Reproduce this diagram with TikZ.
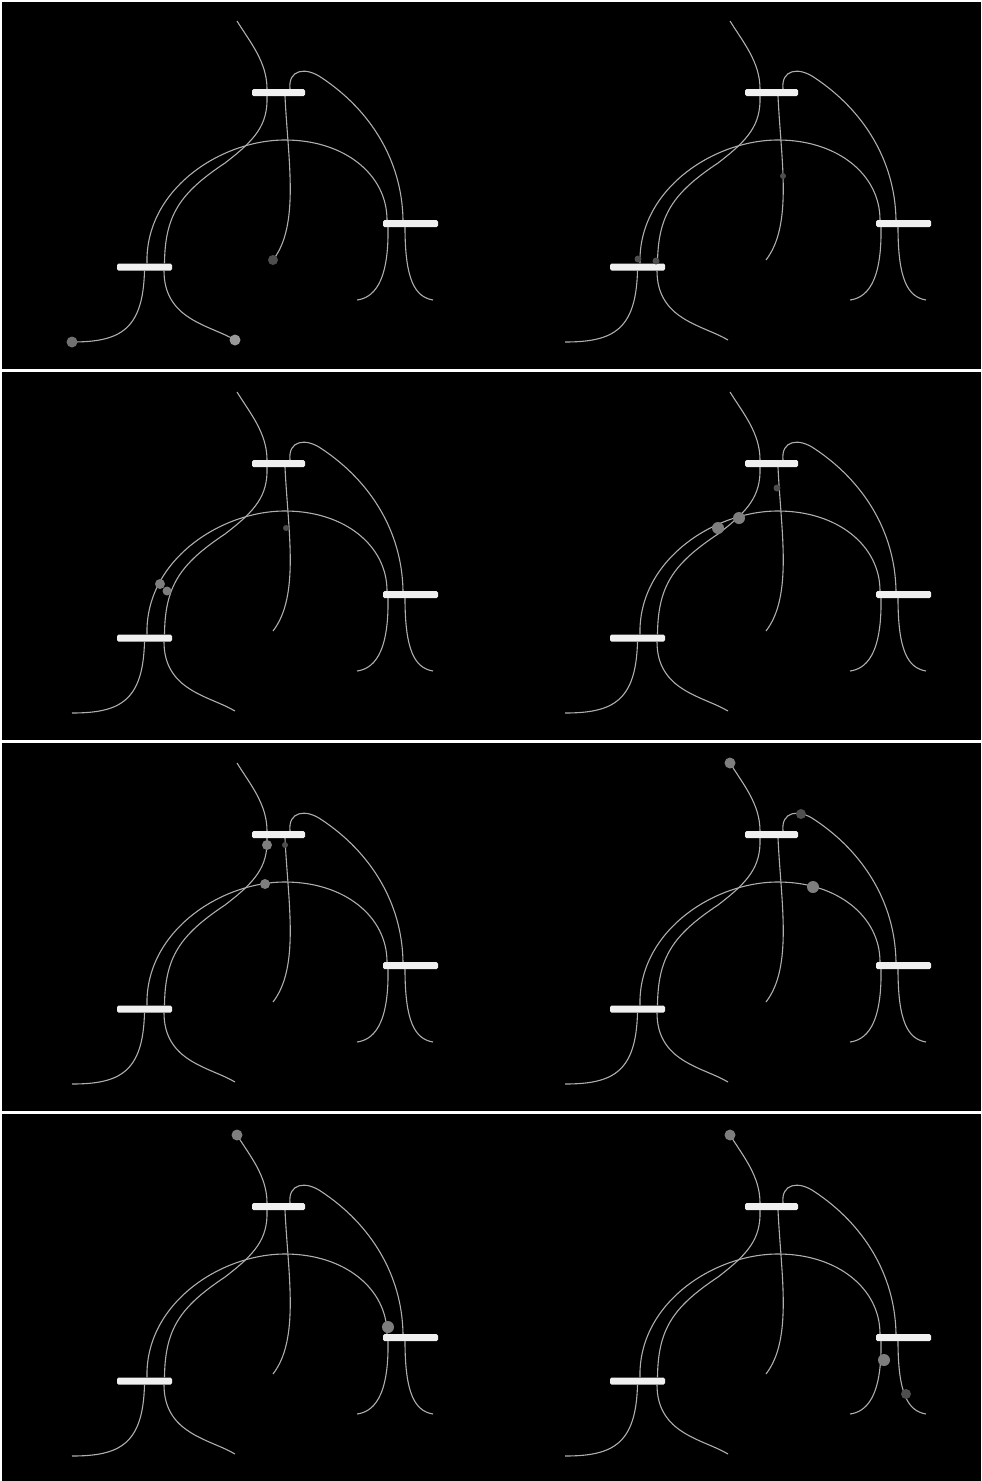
\documentclass[tikz,border=0pt]{standalone}
\usepackage{tikz}
\usetikzlibrary{calc}
\definecolor{netEdge}{HTML}{AEAEAE}
\definecolor{netBar}{HTML}{F0F0F0}
\definecolor{netToken}{HTML}{7E7E7E}
\definecolor{netTokenDim}{HTML}{4E4E4E}
\tikzset{
  arc line/.style={line width=1.1pt, draw=netEdge},
  bar/.style={rectangle, fill=netBar, rounded corners=1.5pt,
    minimum width=53pt, minimum height=7pt, inner sep=0pt},
  token/.style={circle, fill=netToken, minimum size=11pt, inner sep=0pt},
  dim token/.style={circle, fill=netTokenDim, minimum size=7pt,
    inner sep=0pt},
  row panel/.style={fill=black}
}
% one frame of the net, #1 = suffix, #2/#3 = offset
\newcommand{\netframe}[3]{%
  \begin{scope}[shift={(#2,#3)}]
    \node[bar] (top#1) at (278.5,92.5) {};
    \node[bar, minimum width=55pt] (right#1) at (410.5,223.5) {};
    \node[bar, minimum width=55pt] (left#1) at (144.5,267) {};
    \coordinate (in#1) at (237,21);
    \coordinate (mid#1) at (273,260);
    \coordinate (ll#1) at (72,342);
    \coordinate (lr#1) at (235,340);
    \coordinate (rl#1) at (357,300);
    \coordinate (rr#1) at (433,300);
    \draw[arc line] (in#1) .. controls (250,42) and (267,62)
      .. ([xshift=-11.5pt]top#1.north);
    \draw[arc line] ([xshift=-11.5pt]top#1.south) .. controls (268,125)
      and (255,140) .. (225,163) .. controls (180,193) and (165,215)
      .. ([xshift=20pt]left#1.north);
    \draw[arc line] ([xshift=6.5pt]top#1.south) .. controls (288,160)
      and (300,225) .. (mid#1);
    \draw[arc line] ([xshift=11.5pt]top#1.north) .. controls (288,70)
      and (305,66) .. (322,78) .. controls (370,110) and (402,160)
      .. ([xshift=-7.5pt]right#1.north);
    \draw[arc line] ([xshift=2.5pt]left#1.north) .. controls (145,190)
      and (220,140) .. (285,140) .. controls (345,140) and (387,175)
      .. ([xshift=-23.5pt]right#1.north);
    \draw[arc line] ([xshift=-22.5pt]right#1.south) .. controls (389,285)
      and (372,298) .. (rl#1);
    \draw[arc line] ([xshift=-5.5pt]right#1.south) .. controls (405,280)
      and (415,297) .. (rr#1);
    \draw[arc line] ([xshift=0pt]left#1.south) .. controls (143,330)
      and (120,342) .. (ll#1);
    \draw[arc line] ([xshift=19.5pt]left#1.south) .. controls (164,320)
      and (210,325) .. (lr#1);
  \end{scope}}

\begin{document}
\begin{tikzpicture}[x=1pt, y=-1pt]
  \useasboundingbox (0,0) rectangle (982,1481);
  \fill[white] (0,0) rectangle (982,1481);
  \fill[row panel] (2,2) rectangle (981,369);
  \fill[row panel] (2,372) rectangle (981,740);
  \fill[row panel] (2,743) rectangle (981,1111);
  \fill[row panel] (2,1114) rectangle (981,1481);

  \netframe{1}{0}{0}     \netframe{2}{493}{0}
  \netframe{3}{0}{371}   \netframe{4}{493}{371}
  \netframe{5}{0}{742}   \netframe{6}{493}{742}
  \netframe{7}{0}{1114}  \netframe{8}{493}{1114}

  % tokens
  \begin{scope}[shift={(0,0)}]
    \node[token, fill=netToken!90!black] (tok1a) at (ll1) {};
    \node[token, fill=netToken!80!white] (tok1b) at (lr1) {};
    \node[token, fill=netTokenDim, minimum size=10pt] (tok1c) at (mid1) {};
  \end{scope}
  \begin{scope}[shift={(493,0)}]
    \node[dim token] (tok2a) at (145,259) {};
    \node[dim token] (tok2b) at (163,261) {};
    \node[dim token, minimum size=6pt] (tok2c) at (290,176) {};
  \end{scope}
  \begin{scope}[shift={(0,371)}]
    \node[token, minimum size=10pt] (tok3a) at (160,213) {};
    \node[token, minimum size=9pt] (tok3b) at (167,220) {};
    \node[dim token, minimum size=6pt] (tok3c) at (286,157) {};
  \end{scope}
  \begin{scope}[shift={(493,371)}]
    \node[token, minimum size=12pt] (tok4a) at (225,157) {};
    \node[token, minimum size=12pt] (tok4b) at (246,147) {};
    \node[dim token] (tok4c) at (284,117) {};
  \end{scope}
  \begin{scope}[shift={(0,742)}]
    \node[token, minimum size=10pt] (tok5a) at (267,103) {};
    \node[dim token, minimum size=6pt] (tok5b) at (285,103) {};
    \node[token, minimum size=10pt] (tok5c) at (265,142) {};
  \end{scope}
  \begin{scope}[shift={(493,742)}]
    \node[token] (tok6a) at (in6) {};
    \node[token, fill=netTokenDim, minimum size=10pt] (tok6b) at (308,72) {};
    \node[token, minimum size=12pt] (tok6c) at (320,145) {};
  \end{scope}
  \begin{scope}[shift={(0,1114)}]
    \node[token] (tok7a) at (in7) {};
    \node[token, minimum size=12pt] (tok7b) at (388,213) {};
  \end{scope}
  \begin{scope}[shift={(493,1114)}]
    \node[token] (tok8a) at (in8) {};
    \node[token, minimum size=12pt] (tok8b) at (391,246) {};
    \node[token, fill=netTokenDim, minimum size=10pt] (tok8c) at (413,280) {};
  \end{scope}
\end{tikzpicture}
\end{document}
